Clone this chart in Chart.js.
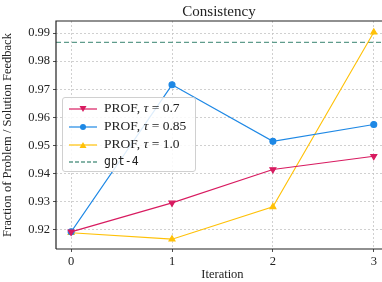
<!DOCTYPE html>
<html><head><meta charset="utf-8">
<script src="https://cdn.jsdelivr.net/npm/chart.js@4/dist/chart.umd.min.js"></script>
<style>
html,body{margin:0;padding:0;background:#fff;overflow:hidden;}
#wrap{position:relative;width:382px;height:282px;overflow:hidden;}
#c{position:absolute;left:0;top:0;}
#title{position:absolute;left:56px;width:326px;top:2px;text-align:center;font-family:"Liberation Serif","DejaVu Serif",serif;font-size:15px;color:#222;line-height:18px;}
#legend{position:absolute;left:62px;top:97px;width:134px;height:75px;border:1px solid #d0d0d0;border-radius:3px;background:rgba(255,255,255,0.85);font-family:"Liberation Serif","DejaVu Serif",serif;font-size:13.5px;color:#222;box-sizing:border-box;}
.row{position:absolute;left:5px;height:18px;line-height:18px;white-space:nowrap;}
.row canvas{vertical-align:middle;margin-right:6px;}
.mono{font-family:"DejaVu Sans Mono","Liberation Mono",monospace;font-size:11.5px;}
</style></head>
<body><div id="wrap"><canvas id="c" width="394" height="282"></canvas><div id="title">Consistency</div><div id="legend"></div></div>
<script>
const iterations = [0, 1, 2, 3];
const prof07 = [0.9193, 0.9296, 0.9415, 0.9462];
const prof085 = [0.9193, 0.9716, 0.9515, 0.9575];
const prof10 = [0.9190, 0.9167, 0.9282, 0.9903];
const gpt4 = 0.9867;
const yTicks = [0.92, 0.93, 0.94, 0.95, 0.96, 0.97, 0.98, 0.99];
const seriesNames = ["PROF, τ = 0.7", "PROF, τ = 0.85", "PROF, τ = 1.0", "gpt-4"];
const colors = ["#d81b60", "#1e88e5", "#ffc107", "#5f9c8c"];

const toXY = arr => arr.map((v, i) => ({x: iterations[i], y: v}));
const serif = "'Liberation Serif','DejaVu Serif',serif";

const frame = {
  id: 'frame',
  afterDraw(chart) {
    const {ctx, chartArea: a} = chart;
    ctx.save();
    ctx.strokeStyle = '#222';
    ctx.lineWidth = 1.2;
    ctx.beginPath();
    ctx.moveTo(a.left, a.bottom); ctx.lineTo(a.left, a.top); ctx.lineTo(a.right, a.top);
    ctx.moveTo(a.left, a.bottom); ctx.lineTo(a.right, a.bottom);
    ctx.stroke();
    ctx.restore();
  }
};

new Chart(document.getElementById('c'), {
  type: 'line',
  data: {
    datasets: [
      {label: seriesNames[0], data: toXY(prof07), borderColor: colors[0], backgroundColor: colors[0], pointStyle: 'triangle', pointRotation: 180, pointRadius: 3.5, borderWidth: 1.1},
      {label: seriesNames[1], data: toXY(prof085), borderColor: colors[1], backgroundColor: colors[1], pointStyle: 'circle', pointRadius: 3, borderWidth: 1.1},
      {label: seriesNames[2], data: toXY(prof10), borderColor: colors[2], backgroundColor: colors[2], pointStyle: 'triangle', pointRadius: 3.5, borderWidth: 1.1},
      {label: seriesNames[3], data: [{x: -0.15, y: gpt4}, {x: 3.15, y: gpt4}], borderColor: colors[3], borderDash: [5, 3], pointRadius: 0, borderWidth: 1.4}
    ]
  },
  options: {
    animation: false, responsive: false,
    layout: {padding: {top: 21, right: 0, left: 0, bottom: 0}},
    plugins: {
      legend: {display: false}, tooltip: {enabled: false}, title: {display: false}
    },
    scales: {
      x: {
        type: 'linear', min: -0.15, max: 3.15,
        afterBuildTicks: s => { s.ticks = iterations.map(v => ({value: v})); },
        ticks: {color: '#222', font: {family: serif, size: 12.5}, padding: 2, callback: v => String(v)},
        grid: {color: '#c4c4c4', lineWidth: 0.8, tickColor: '#222', tickLength: 3, drawTicks: true},
        border: {display: false, dash: [2, 2]},
        title: {display: true, text: 'Iteration', color: '#222', font: {family: serif, size: 12.5}, padding: {top: 0, bottom: 0}},
        afterFit: s => { s.height = 33; }
      },
      y: {
        type: 'linear', min: 0.9132, max: 0.9943,
        afterBuildTicks: s => { s.ticks = yTicks.map(v => ({value: v})); },
        ticks: {color: '#222', font: {family: serif, size: 12.5}, padding: 3, callback: v => v.toFixed(2)},
        grid: {color: '#c4c4c4', lineWidth: 0.8, tickColor: '#222', tickLength: 3},
        border: {display: false, dash: [2, 2]},
        title: {display: true, text: 'Fraction of Problem / Solution Feedback', color: '#222', font: {family: serif, size: 12.5}, padding: {top: 0, bottom: 1}},
        afterFit: s => { s.width = 56; }
      }
    }
  },
  plugins: [frame]
});

// HTML legend
const leg = document.getElementById('legend');
seriesNames.forEach((name, i) => {
  const row = document.createElement('div');
  row.className = 'row';
  row.style.top = (1 + i * 17.8) + 'px';
  const cv = document.createElement('canvas');
  cv.width = 30; cv.height = 10;
  const g = cv.getContext('2d');
  g.strokeStyle = colors[i]; g.fillStyle = colors[i]; g.lineWidth = i === 3 ? 1.3 : 1.2;
  if (i === 3) g.setLineDash([4, 2]);
  g.beginPath(); g.moveTo(1, 5); g.lineTo(29, 5); g.stroke();
  g.setLineDash([]);
  g.beginPath();
  if (i === 0) { g.moveTo(11.5, 2); g.lineTo(18.5, 2); g.lineTo(15, 8); g.closePath(); g.fill(); }
  if (i === 1) { g.arc(15, 5, 3, 0, Math.PI * 2); g.fill(); }
  if (i === 2) { g.moveTo(11.5, 8); g.lineTo(18.5, 8); g.lineTo(15, 2); g.closePath(); g.fill(); }
  row.appendChild(cv);
  const span = document.createElement('span');
  if (i === 3) { span.className = 'mono'; span.textContent = name; }
  else {
    const parts = name.split('τ');
    span.innerHTML = parts[0] + '<i>τ</i>' + parts[1];
  }
  row.appendChild(span);
  leg.appendChild(row);
});
</script></body></html>
